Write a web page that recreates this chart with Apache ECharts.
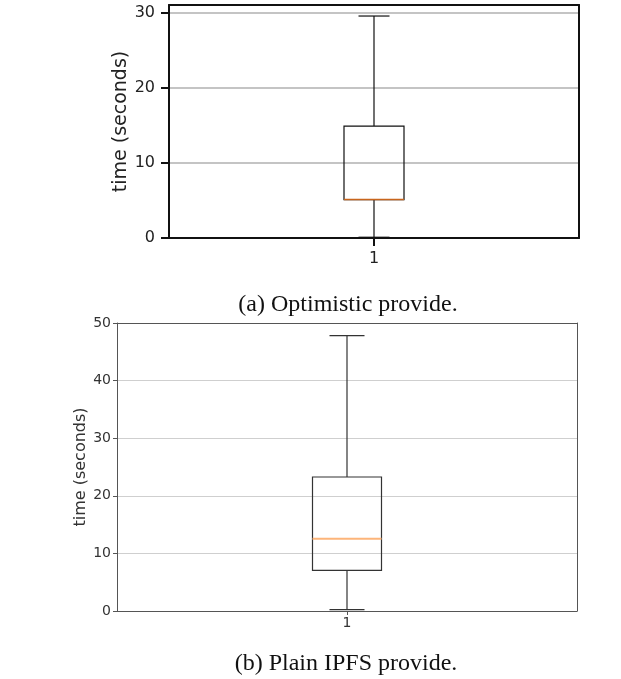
<!DOCTYPE html>
<html><head><meta charset="utf-8">
<script src="https://cdn.jsdelivr.net/npm/echarts@6/dist/echarts.min.js"></script>
<style>html,body{margin:0;padding:0;background:#fff}#c{width:621px;height:679px}</style>
</head><body><div id="c"></div>
<script>
const categories = ['1'];
// [lowerWhisker, Q1, median, Q3, upperWhisker]
const optimisticStats = [0.1, 5.1, 5.15, 14.93, 29.6];
const plainStats = [0.23, 7.06, 12.55, 23.26, 47.8];
const yTicksA = [0, 10, 20, 30];
const yMaxA = 31.07;
const yTicksB = [0, 10, 20, 30, 40, 50];
const captionA = '(a) Optimistic provide.';
const captionB = '(b) Plain IPFS provide.';
const yName = 'time (seconds)';

function boxRender(boxW, capW, lineColor, medColor, lw, medW) {
  return function (params, api) {
    const x = api.value(0);
    const v = [api.value(1), api.value(2), api.value(3), api.value(4), api.value(5)];
    const p = v.map(val => api.coord([x, val]));
    const cx = p[0][0];
    const ls = {stroke: lineColor, lineWidth: lw};
    return {
      type: 'group',
      children: [
        {type: 'line', shape: {x1: cx, y1: p[0][1], x2: cx, y2: p[1][1]}, style: ls},
        {type: 'line', shape: {x1: cx, y1: p[3][1], x2: cx, y2: p[4][1]}, style: ls},
        {type: 'line', shape: {x1: cx - capW/2, y1: p[0][1], x2: cx + capW/2, y2: p[0][1]}, style: ls},
        {type: 'line', shape: {x1: cx - capW/2, y1: p[4][1], x2: cx + capW/2, y2: p[4][1]}, style: ls},
        {type: 'rect', shape: {x: cx - boxW/2, y: p[3][1], width: boxW, height: p[1][1] - p[3][1]}, style: {fill: 'none', stroke: lineColor, lineWidth: lw}},
        {type: 'line', shape: {x1: cx - boxW/2, y1: p[2][1], x2: cx + boxW/2, y2: p[2][1]}, style: {stroke: medColor, lineWidth: medW}}
      ]
    };
  };
}

const fontA = 'DejaVu Sans';
const frameA = {show: true, onZero: false, lineStyle: {color: '#111', width: 2}};
const frameB = {show: true, onZero: false, lineStyle: {color: '#555', width: 1}};
const hidden = {axisTick: {show: false}, axisLabel: {show: false}, splitLine: {show: false}};

const chart = echarts.init(document.getElementById('c'), null, {renderer: 'canvas'});
chart.setOption({
  animation: false,
  title: [
    {text: captionA, left: 343, top: 288, textAlign: 'center', textStyle: {fontFamily: 'Liberation Serif', fontWeight: 'normal', fontSize: 24, color: '#111'}},
    {text: captionB, left: 341, top: 647, textAlign: 'center', textStyle: {fontFamily: 'Liberation Serif', fontWeight: 'normal', fontSize: 24, color: '#111'}}
  ],
  grid: [
    {left: 169, top: 5, width: 410, height: 233},
    {left: 117, top: 323, width: 460, height: 288}
  ],
  xAxis: [
    {type: 'category', gridIndex: 0, position: 'bottom', data: categories, boundaryGap: true,
     axisLine: frameA, axisTick: {show: true, alignWithLabel: true, length: 8, lineStyle: {color: '#111', width: 2}},
     axisLabel: {fontFamily: fontA, fontSize: 16, color: '#222', margin: 13}, splitLine: {show: false}},
    {type: 'category', gridIndex: 1, position: 'bottom', data: categories, boundaryGap: true,
     axisLine: frameB, axisTick: {show: true, alignWithLabel: true, length: 4, lineStyle: {color: '#555', width: 1}},
     axisLabel: {fontFamily: fontA, fontSize: 14, color: '#333', margin: 5}, splitLine: {show: false}},
    Object.assign({type: 'category', gridIndex: 0, position: 'top', data: categories, axisLine: frameA}, hidden),
    Object.assign({type: 'category', gridIndex: 1, position: 'top', data: categories, axisLine: frameB}, hidden)
  ],
  yAxis: [
    {type: 'value', gridIndex: 0, position: 'left', min: yTicksA[0], max: yMaxA, interval: 10,
     name: yName, nameLocation: 'middle', nameGap: 38, nameRotate: 90, nameMoveOverlap: false,
     nameTextStyle: {fontFamily: fontA, fontSize: 19, color: '#222'},
     axisLine: frameA, axisTick: {show: true, length: 8, lineStyle: {color: '#111', width: 2}},
     axisLabel: {fontFamily: fontA, fontSize: 16, color: '#222', margin: 14, showMaxLabel: false,
       formatter: v => yTicksA.includes(v) ? String(v) : ''},
     splitLine: {show: true, lineStyle: {color: '#b0b0b0', width: 1.5}}},
    {type: 'value', gridIndex: 1, position: 'left', min: yTicksB[0], max: yTicksB[yTicksB.length - 1], interval: 10,
     name: yName, nameLocation: 'middle', nameGap: 28, nameRotate: 90, nameMoveOverlap: false,
     nameTextStyle: {fontFamily: fontA, fontSize: 16, color: '#333'},
     axisLine: frameB, axisTick: {show: true, length: 4, lineStyle: {color: '#555', width: 1}},
     axisLabel: {fontFamily: fontA, fontSize: 14, color: '#333', margin: 6},
     splitLine: {show: true, lineStyle: {color: '#cfcfcf', width: 1}}},
    Object.assign({type: 'value', gridIndex: 0, position: 'right', min: yTicksA[0], max: yMaxA, axisLine: frameA}, hidden),
    Object.assign({type: 'value', gridIndex: 1, position: 'right', min: yTicksB[0], max: yTicksB[yTicksB.length - 1], axisLine: frameB}, hidden)
  ],
  series: [
    {type: 'custom', xAxisIndex: 0, yAxisIndex: 0, renderItem: boxRender(60, 31, '#111', '#c8651c', 1.2, 1.5),
     data: [[0].concat(optimisticStats)], encode: {x: 0, y: [1, 2, 3, 4, 5]}, z: 5},
    {type: 'custom', xAxisIndex: 1, yAxisIndex: 1, renderItem: boxRender(69, 35, '#333', '#fdb57a', 1.2, 2),
     data: [[0].concat(plainStats)], encode: {x: 0, y: [1, 2, 3, 4, 5]}, z: 5}
  ]
});
</script></body></html>
